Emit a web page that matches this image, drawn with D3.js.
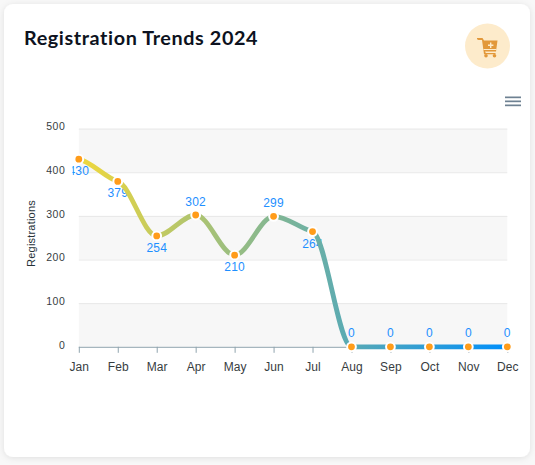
<!DOCTYPE html>
<html><head><meta charset="utf-8">
<script src="https://cdn.jsdelivr.net/npm/d3@7/dist/d3.min.js"></script>
<style>
html,body{margin:0;padding:0;background:#f8f8f8;width:535px;height:465px;overflow:hidden}
svg{display:block}
</style></head><body><svg id="c" width="535" height="465"></svg>
<script>
const months=["Jan","Feb","Mar","Apr","May","Jun","Jul","Aug","Sep","Oct","Nov","Dec"];
const registrations=[430,379,254,302,210,299,264,0,0,0,0,0];
const yTicks=[0,100,200,300,400,500];
const titleText="Registration Trends 2024";
const yTitle="Registrations";

const svg=d3.select("#c");
const defs=svg.append("defs");
const f=defs.append("filter").attr("id","sh").attr("x","-5%").attr("y","-5%").attr("width","110%").attr("height","110%");
f.append("feDropShadow").attr("dx",0).attr("dy",1).attr("stdDeviation",3).attr("flood-color","#000").attr("flood-opacity",0.10);
svg.append("rect").attr("x",4).attr("y",4).attr("width",526).attr("height",453).attr("rx",9).attr("fill","#fff").attr("filter","url(#sh)");

svg.append("text").attr("x",24).attr("y",44.5).text(titleText)
  .attr("font-family","Lato,sans-serif").attr("font-weight",700).attr("font-size",19.8).attr("fill","#0d1220").attr("letter-spacing",0.6);

// icon
svg.append("circle").attr("cx",487.5).attr("cy",46).attr("r",22.5).attr("fill","#fdebcb");
const ic=svg.append("g").attr("transform","translate(477,37)").attr("fill","#e2983a");
ic.append("path").attr("d","M0 1H5.5L7 3.5H20.5L19 14.5H8L8.8 16H18.5V17.2H7L5 3H1.5L0 2.2Z");
ic.append("circle").attr("cx",9).attr("cy",18.7).attr("r",1.8);
ic.append("circle").attr("cx",17.5).attr("cy",18.7).attr("r",1.8);
ic.append("path").attr("d","M13 5.5h1.4v2h2v1.4h-2v2H13v-2h-2V7.5h2Z").attr("fill","#fdebcb");
ic.append("rect").attr("x",6.5).attr("y",12).attr("width",13).attr("height",1).attr("fill","#fdebcb");

// menu
const mn=svg.append("g").attr("fill","#6e8192");
[96.5,100.5,104.5].forEach(y=>mn.append("rect").attr("x",505).attr("y",y).attr("width",16).attr("height",1.7));

const x=d3.scalePoint().domain(months).range([78.8,507.3]);
const y=d3.scaleLinear().domain([0,500]).range([346.8,128.6]);

// bands
const bands=svg.append("g");
d3.pairs(yTicks).forEach((p,i)=>{ if(i%2===0) bands.append("rect")
  .attr("x",x.range()[0]).attr("width",x.range()[1]-x.range()[0])
  .attr("y",y(p[1])).attr("height",y(p[0])-y(p[1])).attr("fill","#f7f7f7");});

const gy=svg.append("g").attr("transform",`translate(${x.range()[0]},0)`)
 .call(d3.axisLeft(y).tickValues(yTicks).tickSize(-(x.range()[1]-x.range()[0])).tickPadding(12));
gy.select(".domain").remove();
gy.selectAll("line").attr("stroke","#e8e8e8").attr("stroke-width",1);
gy.selectAll(".tick").filter(d=>d===0).select("line").remove();
gy.selectAll("text").attr("dy",null).attr("y",-1.5).attr("dominant-baseline","middle")
  .attr("font-family","'Liberation Sans',Arial,sans-serif").attr("font-size",10.5).attr("fill","#373d3f").attr("letter-spacing",0.5).attr("x",-13.5);

const gx=svg.append("g").attr("transform",`translate(0,${y(0)})`)
 .call(d3.axisBottom(x).tickSize(6).tickPadding(9.5).tickSizeOuter(0));
gx.select(".domain").attr("stroke","#90a4ae").attr("stroke-width",1).attr("d",`M${x.range()[0]},0.5H${x.range()[1]}`);
gx.selectAll("line").attr("stroke","#90a4ae").attr("stroke-width",1);
gx.selectAll("text").attr("font-family","'Liberation Sans',Arial,sans-serif").attr("font-size",12).attr("fill","#373d3f").attr("letter-spacing",0.1);

svg.append("text").attr("transform","translate(34.5,233.5) rotate(-90)").attr("text-anchor","middle")
  .attr("font-family","'Liberation Sans',Arial,sans-serif").attr("font-size",11).attr("fill","#263238").attr("letter-spacing",0.2).text(yTitle);

// labels (under line, clipped at the plot's left edge)
defs.append("clipPath").attr("id","clipL").append("rect").attr("x",72.5).attr("y",100).attr("width",450).attr("height",270);
const isAbove=(v,i)=>v===0||(i>0&&i<registrations.length-1&&v>registrations[i-1]&&v>registrations[i+1]);
svg.append("g").attr("clip-path","url(#clipL)").selectAll("text").data(registrations).join("text")
  .attr("x",(d,i)=>x(months[i])).attr("y",(d,i)=>y(d)+(isAbove(d,i)?-9.5:16))
  .attr("text-anchor","middle").attr("font-family","'Liberation Sans',Arial,sans-serif")
  .attr("font-size",12).attr("fill","#1e8fff").attr("letter-spacing",0.2).text(d=>d);

// line: monotone cubic whose tangents are damped by a factor
function dampedMonotone(k){
  return function(ctx){
    let pts;
    return {
      lineStart(){pts=[];},
      point(a,b){pts.push([a,b]);},
      lineEnd(){
        const n=pts.length, sec=d3.pairs(pts).map(([p,q])=>(q[1]-p[1])/(q[0]-p[0]));
        const t=pts.map((p,i)=>{
          if(i===0) return sec[0]*k;
          if(i===n-1) return sec[n-2]*k;
          const a=sec[i-1],b=sec[i];
          return a*b<=0?0:k*2*a*b/(a+b);
        });
        ctx.moveTo(pts[0][0],pts[0][1]);
        for(let i=1;i<n;i++){
          const h=(pts[i][0]-pts[i-1][0])/3;
          ctx.bezierCurveTo(pts[i-1][0]+h,pts[i-1][1]+t[i-1]*h,pts[i][0]-h,pts[i][1]-t[i]*h,pts[i][0],pts[i][1]);
        }
      }
    };
  };
}
const grad=defs.append("linearGradient").attr("id","lg").attr("gradientUnits","userSpaceOnUse")
  .attr("x1",x.range()[0]).attr("x2",x.range()[1]).attr("y1",0).attr("y2",0);
grad.append("stop").attr("offset",0).attr("stop-color","#f0d83c");
grad.append("stop").attr("offset",1).attr("stop-color","#008ffb");
const line=d3.line().x((d,i)=>x(months[i])).y(d=>y(d)).curve(dampedMonotone(0.38));
svg.append("path").datum(registrations).attr("d",line).attr("fill","none").attr("stroke","url(#lg)").attr("stroke-width",4.8).attr("stroke-linecap","butt");

svg.append("g").selectAll("circle").data(registrations).join("circle")
  .attr("cx",(d,i)=>x(months[i])).attr("cy",d=>y(d)).attr("r",4.4)
  .attr("fill","#ff9c1a").attr("stroke","#fff").attr("stroke-width",2);
</script></body></html>
